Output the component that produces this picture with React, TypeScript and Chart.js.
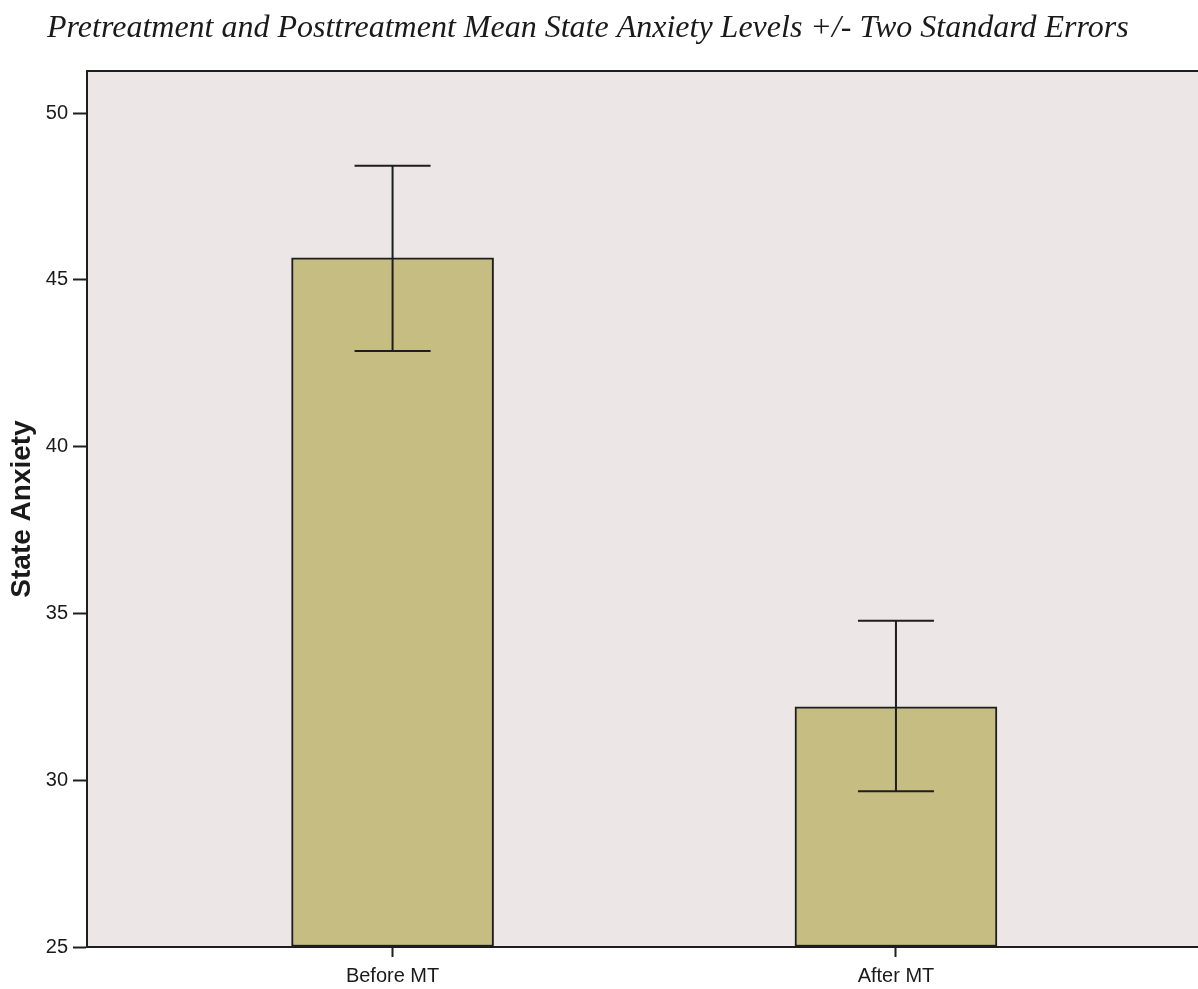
import React, { useEffect, useRef } from "react";
import { Chart, registerables } from "chart.js";

Chart.register(...registerables);

// Group labels and their mean scores
const categories = ["Before MT", "After MT"];
const means = [45.66, 32.2];
// Mean +/- two standard errors
const errorHigh = [48.42, 34.78];
const errorLow = [42.87, 29.67];
const yTicks = [25, 30, 35, 40, 45, 50];

const titleText =
  "Pretreatment and Posttreatment Mean State Anxiety Levels +/- Two Standard Errors";

const plotFrame = {
  id: "plotFrame",
  beforeDraw(chart: any) {
    const { ctx, chartArea } = chart;
    ctx.save();
    ctx.fillStyle = "#ece7e6";
    ctx.fillRect(chartArea.left, chartArea.top, chartArea.right - chartArea.left, chartArea.bottom - chartArea.top);
    ctx.restore();
  },
  afterDraw(chart: any) {
    const { ctx, chartArea } = chart;
    ctx.save();
    ctx.strokeStyle = "#1e1e1e";
    ctx.lineWidth = 2;
    ctx.beginPath();
    ctx.moveTo(chartArea.left - 1, chartArea.top);
    ctx.lineTo(chartArea.right, chartArea.top);
    ctx.stroke();
    ctx.fillStyle = "#1a1a1a";
    ctx.font = "italic 32px 'Liberation Serif', 'Times New Roman', serif";
    ctx.textBaseline = "alphabetic";
    ctx.textAlign = "left";
    ctx.fillText(titleText, 47, 37);
    ctx.restore();
  },
};

const errorBars = {
  id: "errorBars",
  afterDatasetsDraw(chart: any) {
    const { ctx, scales } = chart;
    const xs = scales.x;
    const ys = scales.y;
    ctx.save();
    ctx.strokeStyle = "#1e1e1e";
    ctx.lineWidth = 2;
    for (let i = 0; i < means.length; i++) {
      const x = xs.getPixelForValue(i);
      const yHi = ys.getPixelForValue(errorHigh[i]);
      const yLo = ys.getPixelForValue(errorLow[i]);
      const half = 38;
      ctx.beginPath();
      ctx.moveTo(x, yHi);
      ctx.lineTo(x, yLo);
      ctx.moveTo(x - half, yHi);
      ctx.lineTo(x + half, yHi);
      ctx.moveTo(x - half, yLo);
      ctx.lineTo(x + half, yLo);
      ctx.stroke();
    }
    ctx.restore();
  },
};

export default function App() {
  const canvasRef = useRef<HTMLCanvasElement | null>(null);

  useEffect(() => {
    document.body.style.margin = "0";
    const canvas = canvasRef.current;
    if (!canvas) return;
    const chart = new Chart(canvas, {
      type: "bar",
      data: {
        datasets: [
          {
            data: means.map((v, i) => ({ x: i, y: v })),
            base: 25,
            backgroundColor: "#c6bd83",
            borderColor: "#1e1e1e",
            borderWidth: 2,
            borderSkipped: false,
            barThickness: 202,
          } as any,
        ],
      },
      options: {
        animation: false,
        responsive: false,
        devicePixelRatio: 1,
        layout: { padding: { top: 71, left: 0, right: 0, bottom: 0 } },
        plugins: {
          legend: { display: false },
          tooltip: { enabled: false },
          title: { display: false },
        },
        scales: {
          x: {
            type: "linear",
            min: -0.607,
            max: 1.6,
            offset: false,
            afterFit(scale: any) {
              scale.height = 42;
            },
            afterBuildTicks(scale: any) {
              scale.ticks = categories.map((_, i) => ({ value: i }));
            },
            ticks: {
              color: "#1a1a1a",
              font: { family: "'Liberation Sans', Arial, sans-serif", size: 20 },
              padding: 7,
              maxRotation: 0,
              callback: (v: any) => categories[Number(v)] ?? "",
            },
            grid: {
              offset: false,
              drawOnChartArea: false,
              drawTicks: true,
              tickLength: 10,
              tickWidth: 2,
              tickColor: "#1e1e1e",
            },
            border: { display: true, color: "#1e1e1e", width: 2 },
          },
          y: {
            type: "linear",
            min: 25,
            max: 51.26,
            afterFit(scale: any) {
              scale.width = 87;
            },
            afterBuildTicks(scale: any) {
              scale.ticks = yTicks.map((v) => ({ value: v }));
            },
            ticks: {
              color: "#1a1a1a",
              font: { family: "'Liberation Sans', Arial, sans-serif", size: 20 },
              padding: 5,
              includeBounds: false,
            },
            grid: {
              drawOnChartArea: false,
              drawTicks: true,
              tickLength: 14,
              tickWidth: 2,
              tickColor: "#1e1e1e",
            },
            border: { display: true, color: "#1e1e1e", width: 2 },
            title: {
              display: true,
              text: "State Anxiety",
              color: "#1a1a1a",
              font: { family: "'Liberation Sans', Arial, sans-serif", size: 28, weight: "bold" },
              padding: { top: 5, bottom: 0 },
            },
          },
        },
      },
      plugins: [plotFrame, errorBars],
    });
    return () => chart.destroy();
  }, []);

  return <canvas ref={canvasRef} width={1198} height={989} style={{ display: "block" }} />;
}
